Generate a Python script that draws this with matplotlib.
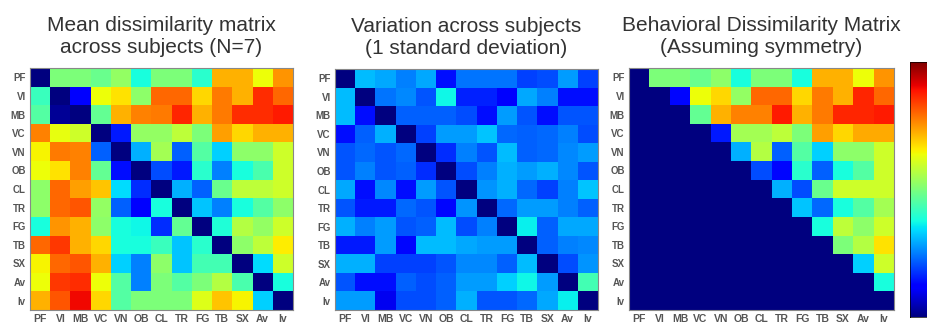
import numpy as np
import matplotlib.pyplot as plt

labels = ['PF', 'VI', 'MB', 'VC', 'VN', 'OB', 'CL', 'TR', 'FG', 'TB', 'SX', 'Av', 'Iv']

# mean dissimilarity (0..1 on the jet scale)
mean_rows = [
    [0.00, 0.50, 0.50, 0.48, 0.53, 0.38, 0.50, 0.50, 0.40, 0.72, 0.72, 0.64, 0.75],
    [0.42, 0.00, 0.12, 0.64, 0.67, 0.52, 0.80, 0.80, 0.68, 0.78, 0.72, 0.86, 0.80],
    [0.45, 0.02, 0.00, 0.47, 0.72, 0.77, 0.78, 0.87, 0.72, 0.78, 0.86, 0.86, 0.88],
    [0.77, 0.63, 0.60, 0.00, 0.15, 0.53, 0.53, 0.58, 0.50, 0.74, 0.68, 0.72, 0.72],
    [0.65, 0.78, 0.77, 0.22, 0.00, 0.30, 0.55, 0.22, 0.45, 0.33, 0.52, 0.52, 0.60],
    [0.64, 0.67, 0.77, 0.47, 0.14, 0.00, 0.20, 0.15, 0.40, 0.25, 0.38, 0.44, 0.60],
    [0.52, 0.80, 0.74, 0.70, 0.34, 0.17, 0.00, 0.30, 0.22, 0.48, 0.58, 0.58, 0.60],
    [0.52, 0.80, 0.82, 0.53, 0.22, 0.12, 0.38, 0.00, 0.32, 0.25, 0.38, 0.45, 0.52],
    [0.38, 0.75, 0.72, 0.52, 0.38, 0.37, 0.17, 0.47, 0.00, 0.39, 0.57, 0.53, 0.60],
    [0.80, 0.85, 0.72, 0.68, 0.38, 0.38, 0.42, 0.32, 0.40, 0.00, 0.52, 0.58, 0.66],
    [0.65, 0.80, 0.82, 0.72, 0.33, 0.25, 0.52, 0.32, 0.43, 0.43, 0.00, 0.34, 0.60],
    [0.64, 0.85, 0.86, 0.64, 0.45, 0.25, 0.50, 0.45, 0.50, 0.57, 0.44, 0.00, 0.38],
    [0.72, 0.82, 0.90, 0.68, 0.45, 0.50, 0.50, 0.50, 0.62, 0.70, 0.65, 0.33, 0.00],
]

# 1 standard deviation across subjects
std_rows = [
    [0.00, 0.31, 0.29, 0.25, 0.29, 0.14, 0.24, 0.24, 0.24, 0.19, 0.20, 0.28, 0.19],
    [0.31, 0.00, 0.24, 0.26, 0.21, 0.37, 0.16, 0.16, 0.11, 0.29, 0.25, 0.14, 0.14],
    [0.31, 0.14, 0.00, 0.22, 0.22, 0.22, 0.20, 0.14, 0.28, 0.21, 0.14, 0.21, 0.21],
    [0.14, 0.22, 0.30, 0.00, 0.19, 0.28, 0.28, 0.32, 0.23, 0.22, 0.23, 0.25, 0.20],
    [0.21, 0.23, 0.21, 0.23, 0.00, 0.17, 0.25, 0.21, 0.31, 0.22, 0.23, 0.26, 0.28],
    [0.21, 0.25, 0.21, 0.22, 0.17, 0.00, 0.20, 0.25, 0.30, 0.28, 0.30, 0.26, 0.21],
    [0.29, 0.14, 0.26, 0.14, 0.28, 0.21, 0.00, 0.27, 0.30, 0.23, 0.19, 0.25, 0.32],
    [0.21, 0.15, 0.15, 0.23, 0.21, 0.13, 0.27, 0.00, 0.23, 0.28, 0.28, 0.25, 0.22],
    [0.30, 0.25, 0.28, 0.21, 0.22, 0.31, 0.20, 0.25, 0.00, 0.36, 0.22, 0.29, 0.29],
    [0.15, 0.15, 0.28, 0.13, 0.31, 0.31, 0.29, 0.28, 0.28, 0.00, 0.22, 0.25, 0.26],
    [0.30, 0.30, 0.19, 0.19, 0.19, 0.21, 0.26, 0.26, 0.22, 0.31, 0.00, 0.20, 0.27],
    [0.21, 0.14, 0.14, 0.22, 0.20, 0.22, 0.28, 0.28, 0.33, 0.37, 0.28, 0.00, 0.43],
    [0.28, 0.28, 0.10, 0.20, 0.20, 0.22, 0.30, 0.21, 0.21, 0.23, 0.29, 0.36, 0.00],
]

# behavioral matrix: values above the diagonal only, row by row
behav_upper = [
    [0.50, 0.50, 0.48, 0.52, 0.38, 0.50, 0.50, 0.38, 0.72, 0.72, 0.64, 0.75],
    [0.13, 0.64, 0.68, 0.53, 0.80, 0.80, 0.68, 0.78, 0.72, 0.87, 0.80],
    [0.47, 0.72, 0.77, 0.77, 0.88, 0.72, 0.78, 0.87, 0.87, 0.88],
    [0.15, 0.55, 0.55, 0.58, 0.50, 0.74, 0.68, 0.73, 0.73],
    [0.30, 0.57, 0.22, 0.45, 0.33, 0.52, 0.52, 0.60],
    [0.20, 0.13, 0.40, 0.22, 0.38, 0.45, 0.60],
    [0.30, 0.20, 0.48, 0.60, 0.60, 0.60],
    [0.32, 0.23, 0.38, 0.45, 0.55],
    [0.38, 0.58, 0.52, 0.60],
    [0.50, 0.57, 0.67],
    [0.33, 0.60],
    [0.38],
]

n = len(labels)
mean_mat = np.array(mean_rows)
std_mat = np.array(std_rows)
behav_mat = np.zeros((n, n))
for i, row in enumerate(behav_upper):
    behav_mat[i, i + 1:] = row

plt.rcParams['font.family'] = ['Liberation Sans', 'DejaVu Sans']

fig = plt.figure(figsize=(9.28, 3.24), dpi=100)
W, H = 928, 324

def px_axes(x0, y0, x1, y1):
    return fig.add_axes([x0 / W, 1 - y1 / H, (x1 - x0) / W, (y1 - y0) / H])

panels = [
    (mean_mat, 'Mean dissimilarity matrix\nacross subjects (N=7)', (30, 68, 293, 310)),
    (std_mat, 'Variation across subjects\n(1 standard deviation)', (335, 69, 598, 310)),
    (behav_mat, 'Behavioral Dissimilarity Matrix\n(Assuming symmetry)', (629, 68, 894, 310)),
]

for mat, title, box in panels:
    ax = px_axes(*box)
    im = ax.imshow(mat, cmap='jet', vmin=0, vmax=1, aspect='auto', interpolation='nearest')
    ax.set_xticks(range(n))
    ax.set_yticks(range(n))
    ax.set_xticklabels(labels, fontsize=7.5, color='#555555', fontweight='bold')
    ax.set_yticklabels(labels, fontsize=7, color='#555555', fontweight='bold')
    ax.tick_params(length=0, pad=3)
    for s in ax.spines.values():
        s.set_color('#888888')
        s.set_linewidth(0.8)
    ax.set_title(title, fontsize=15, color='#333333', pad=11, linespacing=1.15)

cax = px_axes(910, 62, 935, 317)
cb = fig.colorbar(im, cax=cax)
cb.set_ticks([])
cb.outline.set_linewidth(0.5)

fig.savefig('out.png', dpi=100)
